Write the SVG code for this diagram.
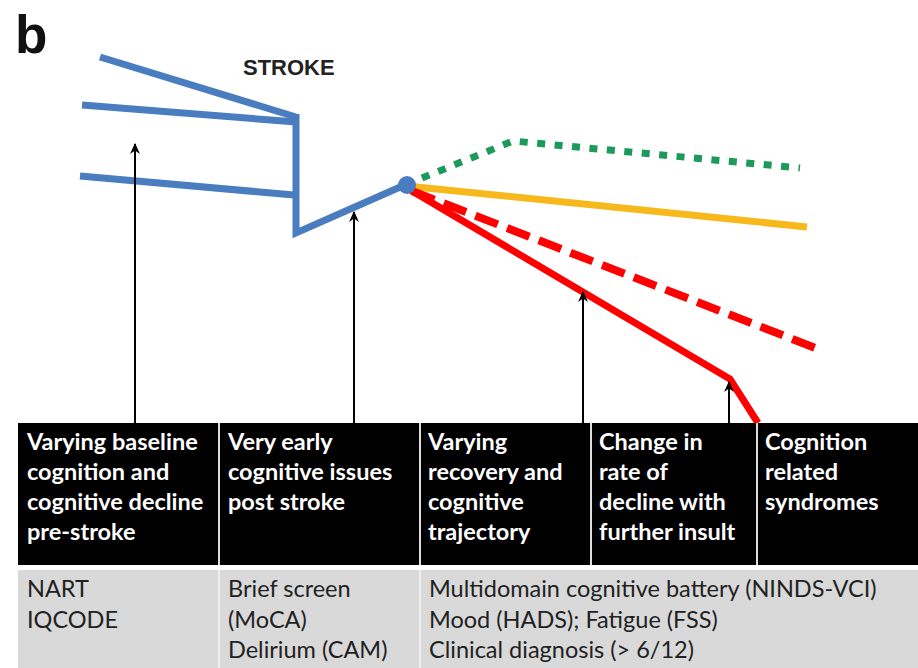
<svg xmlns="http://www.w3.org/2000/svg" width="918" height="668" viewBox="0 0 918 668">
<defs>
<style>
.blue{fill:none;stroke:#4a7cc0;stroke-width:7;stroke-linejoin:miter;stroke-linecap:butt}
.arrow{fill:none;stroke:#000;stroke-width:2;marker-end:url(#ah)}
.hd{font-family:Lato,"Open Sans",sans-serif;font-weight:bold;font-size:23.5px;fill:#fff}
.gy{font-family:Lato,"Open Sans",sans-serif;font-size:23.5px;fill:#222}
</style>
<marker id="ah" viewBox="0 0 10 10" refX="9" refY="5" markerWidth="11" markerHeight="11" orient="auto" markerUnits="userSpaceOnUse">
<path d="M0,0.5 L10,5 L0,9.5 L3,5 z" fill="#000"/>
</marker>
</defs>
<rect width="918" height="668" fill="#fff"/>
<text x="15" y="53" font-family="Liberation Sans, Arial, sans-serif" font-weight="bold" font-size="53" fill="#111">b</text>
<text x="243" y="75" font-family="Liberation Sans, Arial, sans-serif" font-weight="bold" font-size="22" fill="#222">STROKE</text>

<g id="connectors">
<path class="blue" d="M100,57 L296,117"/>
<path class="blue" d="M82,105 L296,122"/>
<path class="blue" d="M80,176 L294,195"/>
<path class="blue" d="M296,114 L296,233 L407,184"/>
<path d="M422,178 L513,141 L800,168" fill="none" stroke="#1b9a5a" stroke-width="7" stroke-dasharray="8,9.5"/>
<path d="M407,186 L807,227" fill="none" stroke="#f7b81c" stroke-width="7"/>
<path d="M412,191 L818,349" fill="none" stroke="#f00" stroke-width="8" stroke-dasharray="24,10"/>
<path d="M407,188 L730,379 L758,423" fill="none" stroke="#f00" stroke-width="7" stroke-linejoin="miter"/>
<circle cx="407" cy="185" r="9" fill="#4a7cc0"/>
<path class="arrow" d="M135,423 L135,144"/>
<path class="arrow" d="M354,423 L354,212"/>
<path class="arrow" d="M583,423 L583,292"/>
<path class="arrow" d="M729,423 L729,382"/>
</g>

<g id="header">
<rect x="18" y="423" width="900" height="142" fill="#000"/>
<path d="M219,423 V565 M420,423 V565 M591,423 V565 M757,423 V565" stroke="#ddd" stroke-width="2"/>
</g>
<g id="row2">
<rect x="18" y="570" width="900" height="98" fill="#d9d9d9"/>
<path d="M219,570 V668 M420,570 V668" stroke="#eee" stroke-width="2"/>
</g>

<g id="h1">
<text class="hd" x="27" y="450">Varying baseline</text>
<text class="hd" x="27" y="480">cognition and</text>
<text class="hd" x="27" y="510">cognitive decline</text>
<text class="hd" x="27" y="540">pre-stroke</text>
</g>
<g id="h2">
<text class="hd" x="228" y="450">Very early</text>
<text class="hd" x="228" y="480">cognitive issues</text>
<text class="hd" x="228" y="510">post stroke</text>
</g>
<g id="h3">
<text class="hd" x="428" y="450">Varying</text>
<text class="hd" x="428" y="480">recovery and</text>
<text class="hd" x="428" y="510">cognitive</text>
<text class="hd" x="428" y="540">trajectory</text>
</g>
<g id="h4">
<text class="hd" x="599" y="450">Change in</text>
<text class="hd" x="599" y="480">rate of</text>
<text class="hd" x="599" y="510">decline with</text>
<text class="hd" x="599" y="540">further insult</text>
</g>
<g id="h5">
<text class="hd" x="765" y="450">Cognition</text>
<text class="hd" x="765" y="480">related</text>
<text class="hd" x="765" y="510">syndromes</text>
</g>

<g id="g1">
<text class="gy" x="27" y="597">NART</text>
<text class="gy" x="27" y="628">IQCODE</text>
</g>
<g id="g2">
<text class="gy" x="228" y="597">Brief screen</text>
<text class="gy" x="228" y="628">(MoCA)</text>
<text class="gy" x="228" y="658">Delirium (CAM)</text>
</g>
<g id="g3">
<text class="gy" x="429" y="597">Multidomain cognitive battery (NINDS-VCI)</text>
<text class="gy" x="429" y="628">Mood (HADS); Fatigue (FSS)</text>
<text class="gy" x="429" y="658">Clinical diagnosis (&gt; 6/12)</text>
</g>
</svg>
